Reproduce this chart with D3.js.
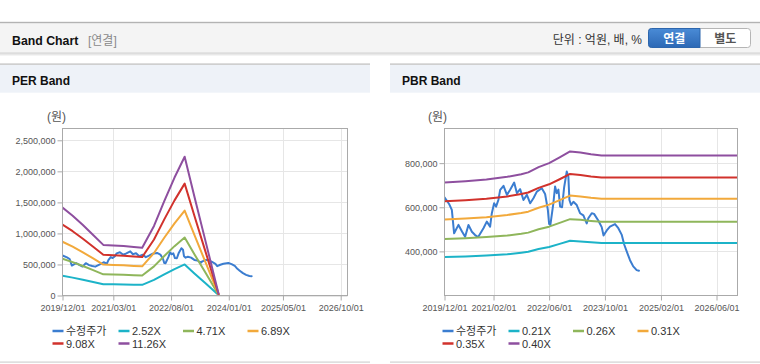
<!DOCTYPE html>
<html><head><meta charset="utf-8">
<script src="https://cdn.jsdelivr.net/npm/d3@7"></script>
<style>
html,body{margin:0;padding:0;background:#fff;}
svg{display:block;font-family:"Liberation Sans",Arial,"Noto Sans CJK KR",sans-serif;}
</style></head><body>
<svg id="c" width="760" height="364"></svg>
<script>
// ---------- data ----------
const priceDates = ["2019-12-01","2020-01-10","2020-02-03","2020-02-23","2020-04-01","2020-05-03","2020-05-29","2020-06-27","2020-07-27","2020-08-24","2020-09-20","2020-11-05","2020-12-04","2021-01-02","2021-01-17","2021-02-06","2021-02-23","2021-03-15","2021-03-31","2021-04-29","2021-05-29","2021-06-26","2021-07-31","2021-08-24","2021-09-21","2021-10-20","2021-11-19","2021-12-18","2022-01-15","2022-02-14","2022-03-29","2022-04-27","2022-05-21","2022-06-01","2022-06-12","2022-07-08","2022-07-23","2022-08-07","2022-08-21","2022-09-05","2022-09-22","2022-10-10","2022-11-02","2022-11-16","2022-11-25","2022-12-10","2022-12-30","2023-01-28","2023-02-26","2023-03-27","2023-04-25","2023-05-09","2023-06-08","2023-06-28","2023-08-04","2023-09-03","2023-09-19","2023-10-17","2023-11-14","2023-12-28","2024-01-26","2024-02-24","2024-03-18","2024-04-08","2024-05-07","2024-06-04","2024-07-04","2024-07-24"];
const priceValues = [645000,615000,588000,482000,520000,489000,466000,520000,489000,474000,465000,505000,535000,512000,573000,618000,603000,633000,679000,697000,656000,679000,712000,664000,682000,633000,656000,618000,641000,671000,686000,660000,588000,524000,520000,618000,694000,664000,680000,603000,600000,690000,762000,739000,633000,610000,625000,610000,573000,563000,527000,550000,573000,570000,540000,510000,472000,495000,512000,524000,505000,476000,430000,400000,360000,332000,315000,312000];

const perBandDates = ["2019-12-01","2020-03-01","2020-06-01","2020-09-01","2020-12-01","2021-03-01","2021-06-01","2021-09-01","2021-11-15","2022-03-01","2022-06-01","2022-09-01","2022-12-01","2023-03-01","2023-06-01","2023-10-01"];
const perBand252  = [317000,288000,254000,218000,182000,180000,178000,175000,172000,251000,340000,425000,500000,352000,204000,7000];
const perBand471  = [592000,538000,475000,408000,341000,337000,333000,326000,321000,469000,636000,795000,935000,658000,381000,13000];
const perBand689  = [866000,786000,695000,597000,499000,493000,487000,477000,470000,685000,930000,1163000,1368000,963000,558000,18000];
const perBand908  = [1141000,1036000,915000,786000,657000,650000,642000,629000,619000,903000,1226000,1532000,1802000,1269000,735000,24000];
const perBand1126 = [1415000,1285000,1135000,975000,815000,806000,796000,780000,768000,1120000,1520000,1900000,2235000,1574000,912000,30000];

const pbrBandDates = ["2019-12-01","2020-06-01","2020-12-01","2021-06-01","2021-10-01","2021-12-01","2022-03-01","2022-06-01","2022-09-01","2022-12-01","2023-03-01","2023-06-01","2023-09-01","2026-12-01"];
const pbrBand021 = [374000,377000,381000,387000,394000,398000,411000,420000,434000,448000,445000,441000,438000,438000];
const pbrBand026 = [456000,460000,465000,472000,480000,485000,500000,512000,529000,546000,543000,538000,534000,534000];
const pbrBand031 = [545000,549000,555000,565000,574000,580000,598000,612000,632000,653000,649000,643000,639000,639000];
const pbrBand035 = [627000,632000,639000,649000,660000,667000,688000,704000,727000,751000,746000,739000,735000,735000];
const pbrBand040 = [712000,718000,726000,738000,750000,758000,782000,800000,826000,853000,848000,840000,835000,835000];

const xDomain = ["2019-12-01","2026-12-01"];
const perXTicks = ["2019-12-01","2021-03-01","2022-08-01","2024-01-01","2025-05-01","2026-10-01"];
const pbrXTicks = ["2019-12-01","2021-02-01","2022-06-01","2023-10-01","2025-02-01","2026-06-01"];
const perYTicks = [0,500000,1000000,1500000,2000000,2500000];
const pbrYTicks = [400000,600000,800000];
const perYDomain = [0,2690000];
const pbrYDomain = [200000,957000];
const perLegend = ["수정주가","2.52X","4.71X","6.89X","9.08X","11.26X"];
const pbrLegend = ["수정주가","0.21X","0.26X","0.31X","0.35X","0.40X"];
const seriesColors = ["#3b7dd0","#1cb3c8","#8fb65b","#f2a93b","#d1322c","#8e4f9f"];

// ---------- drawing ----------
const parse = d3.utcParse("%Y-%m-%d");
const fmt = d3.utcFormat("%Y/%m/%d");
const svg = d3.select("#c");
const defs = svg.append("defs");

// header
const sh = defs.append("linearGradient").attr("id","sh").attr("x1",0).attr("x2",0).attr("y1",0).attr("y2",1);
sh.append("stop").attr("offset","0%").attr("stop-color","#000").attr("stop-opacity",0.18);
sh.append("stop").attr("offset","100%").attr("stop-color","#000").attr("stop-opacity",0);
const bg = defs.append("linearGradient").attr("id","btn").attr("x1",0).attr("x2",0).attr("y1",0).attr("y2",1);
bg.append("stop").attr("offset","0%").attr("stop-color","#4a8bd6");
bg.append("stop").attr("offset","100%").attr("stop-color","#2c68b5");

svg.append("rect").attr("x",0).attr("y",23).attr("width",760).attr("height",29.5).attr("fill","#f4f4f4");
svg.append("rect").attr("x",0).attr("y",21.8).attr("width",760).attr("height",1.4).attr("fill","#b3b3b3");
svg.append("rect").attr("x",0).attr("y",52.5).attr("width",760).attr("height",4).attr("fill","url(#sh)");
svg.append("text").attr("x",12).attr("y",44.5).attr("font-size",12.3).attr("font-weight","bold").attr("fill","#111").text("Band Chart");
svg.append("text").attr("x",88).attr("y",44.5).attr("font-size",12).attr("fill","#8a8a8a").text("[연결]");
svg.append("text").attr("x",642).attr("y",44).attr("font-size",12).attr("fill","#333").attr("text-anchor","end").text("단위 : 억원, 배, %");
// buttons
svg.append("rect").attr("x",648.5).attr("y",28.5).attr("width",102).attr("height",19).attr("rx",3).attr("fill","#fff").attr("stroke","#b5b5b5");
svg.append("path").attr("d","M651.5,28.5 H700 V47.5 H651.5 Q648.5,47.5 648.5,44.5 V31.5 Q648.5,28.5 651.5,28.5 Z").attr("fill","url(#btn)").attr("stroke","#2d66ad");
svg.append("text").attr("x",674.3).attr("y",42.5).attr("font-size",12).attr("font-weight","bold").attr("fill","#fff").attr("text-anchor","middle").text("연결");
svg.append("text").attr("x",725.3).attr("y",42.5).attr("font-size",12).attr("font-weight","bold").attr("fill","#555").attr("text-anchor","middle").text("별도");

function drawPanel(px, title) {
  svg.append("rect").attr("x",px).attr("y",63.3).attr("width",370).attr("height",1.7).attr("fill","#cfcfcf");
  svg.append("rect").attr("x",px).attr("y",65).attr("width",370).attr("height",27.7).attr("fill","#eef2f8");
  svg.append("text").attr("x",px+12).attr("y",85).attr("font-size",12).attr("font-weight","bold").attr("fill","#111").text(title);
  svg.append("rect").attr("x",px).attr("y",361.5).attr("width",370).attr("height",1.2).attr("fill","#d2d2d2");
}
drawPanel(0,"PER Band");
drawPanel(390,"PBR Band");

const T = 128.5, B = 295.5;
function drawChart(cfg) {
  const g = svg.append("g");
  const x = d3.scaleUtc().domain(xDomain.map(parse)).range([cfg.L, cfg.R]);
  const y = d3.scaleLinear().domain(cfg.yDomain).range([B, T]);
  // grid
  g.append("g").selectAll("line").data(cfg.yTicks).join("line")
    .attr("x1",cfg.L).attr("x2",cfg.R)
    .attr("y1",d=>Math.round(y(d))+0.5).attr("y2",d=>Math.round(y(d))+0.5)
    .attr("stroke","#e6e6e6");
  g.append("g").selectAll("line").data(cfg.xTicks.slice(1)).join("line")
    .attr("y1",T).attr("y2",B)
    .attr("x1",d=>Math.round(x(parse(d)))+0.5).attr("x2",d=>Math.round(x(parse(d)))+0.5)
    .attr("stroke","#e6e6e6");
  // clip
  const cid = "clip"+cfg.id;
  defs.append("clipPath").attr("id",cid).append("rect").attr("x",cfg.L).attr("y",T).attr("width",cfg.R-cfg.L).attr("height",B-T);
  const lines = g.append("g").attr("clip-path",`url(#${cid})`);
  const line = d3.line().x(d=>x(d[0])).y(d=>y(d[1]));
  cfg.series.forEach((s,i)=>{
    const pts = s.dates.map((d,j)=>[parse(d), s.values[j]]);
    lines.append("path").attr("d",line(pts)).attr("fill","none")
      .attr("stroke",seriesColors[i]).attr("stroke-width",2)
      .attr("stroke-linejoin","round").attr("stroke-linecap","round");
  });
  // border
  g.append("rect").attr("x",cfg.L).attr("y",T).attr("width",cfg.R-cfg.L).attr("height",B-T)
    .attr("fill","none").attr("stroke","#aaaaaa");
  // axes
  const ya = g.append("g").attr("transform",`translate(${cfg.L},0)`)
    .call(d3.axisLeft(y).tickValues(cfg.yTicks).tickFormat(d3.format(",")).tickSize(5).tickPadding(2));
  const xa = g.append("g").attr("transform",`translate(0,${B})`)
    .call(d3.axisBottom(x).tickValues(cfg.xTicks.map(parse)).tickFormat(fmt).tickSize(5).tickPadding(4));
  [ya,xa].forEach(a=>{
    a.select(".domain").remove();
    a.selectAll(".tick line").attr("stroke","#aaaaaa");
    a.selectAll(".tick text").attr("font-size",9).attr("fill","#555")
      .attr("font-family",'"Liberation Sans",Arial,sans-serif');
  });
  // unit label
  g.append("text").attr("x",cfg.unitX).attr("y",121).attr("font-size",12).attr("fill","#555").text("(원)");
  // legend
  const offs = [52.5,118.5,183,247.5];
  cfg.legend.forEach((name,i)=>{
    const col = i<4 ? i : i-4;
    const row = i<4 ? 0 : 1;
    const lx = cfg.px + offs[col];
    const ly = row===0 ? 331 : 343.5;
    const lg = g.append("g");
    lg.append("line").attr("x1",lx).attr("x2",lx+11).attr("y1",ly).attr("y2",ly)
      .attr("stroke",seriesColors[i]).attr("stroke-width",2.5);
    lg.append("text").attr("x",lx+13.5).attr("y",ly+4).attr("font-size",11).attr("fill","#333").text(name);
  });
}

drawChart({
  id:"per", px:0, L:62.5, R:347.5, unitX:47, yDomain:perYDomain, yTicks:perYTicks, xTicks:perXTicks, legend:perLegend,
  series:[
    {dates:priceDates, values:priceValues},
    {dates:perBandDates, values:perBand252},
    {dates:perBandDates, values:perBand471},
    {dates:perBandDates, values:perBand689},
    {dates:perBandDates, values:perBand908},
    {dates:perBandDates, values:perBand1126}
  ]
});
drawChart({
  id:"pbr", px:390, L:444.5, R:737.5, unitX:428, yDomain:pbrYDomain, yTicks:pbrYTicks, xTicks:pbrXTicks, legend:pbrLegend,
  series:[
    {dates:priceDates, values:priceValues},
    {dates:pbrBandDates, values:pbrBand021},
    {dates:pbrBandDates, values:pbrBand026},
    {dates:pbrBandDates, values:pbrBand031},
    {dates:pbrBandDates, values:pbrBand035},
    {dates:pbrBandDates, values:pbrBand040}
  ]
});
</script>
</body></html>
